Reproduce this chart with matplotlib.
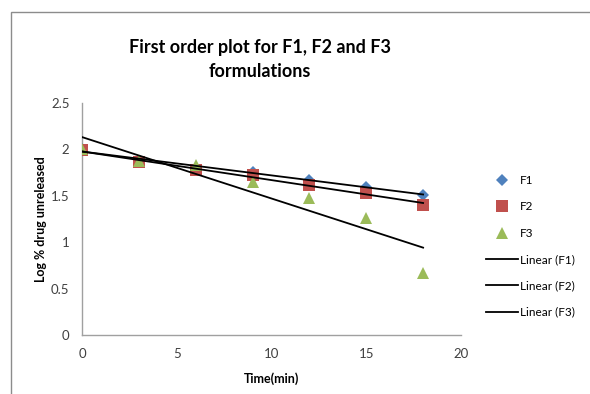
import matplotlib
matplotlib.use("Agg")
import matplotlib.pyplot as plt
from matplotlib.lines import Line2D
from matplotlib.patches import Rectangle
import numpy as np

plt.rcParams['font.family'] = ['Lato', 'DejaVu Sans']

# time points (min)
time = [0, 3, 6, 9, 12, 15, 18]
# log % drug unreleased
f1 = [2.00, 1.88, 1.80, 1.76, 1.67, 1.60, 1.51]
f2 = [1.99, 1.86, 1.78, 1.72, 1.62, 1.53, 1.40]
f3 = [2.00, 1.87, 1.83, 1.65, 1.48, 1.26, 0.67]
names = ['F1', 'F2', 'F3']

colors = ['#4F81BD', '#C0504D', '#9BBB59']
markers = ['D', 's', '^']
msizes = [6.5, 8.5, 8.5]

fig = plt.figure(figsize=(5.9, 3.94), dpi=100)
ax = fig.add_axes([82 / 590, 1 - 335 / 394, (461 - 82) / 590, (335 - 103) / 394])

# chart area border
fig.patches.append(Rectangle((11 / 590, -0.05), 1.2, 1 - 12 / 394 + 0.05,
                             transform=fig.transFigure, fill=False,
                             edgecolor='#8c8c8c', linewidth=1.0))

series = [f1, f2, f3]
x = np.array(time)
for ys, c, m, s in zip(series, colors, markers, msizes):
    ax.plot(time, ys, linestyle='None', marker=m, color=c, markersize=s,
            markeredgewidth=0, zorder=3)

for ys in series:
    k, b = np.polyfit(x, ys, 1)
    ax.plot([x[0], x[-1]], [b, b + k * x[-1]], color='black', linewidth=1.3,
            zorder=4)

ax.set_xlim(0, 20)
ax.set_ylim(0, 2.5)
ax.set_xticks([0, 5, 10, 15, 20])
ax.set_yticks([0, 0.5, 1, 1.5, 2, 2.5])
ax.set_yticklabels(['0', '0.5', '1', '1.5', '2', '2.5'])
ax.tick_params(length=0, labelsize=9.5, colors='#404040', pad=9)
for sp in ['top', 'right']:
    ax.spines[sp].set_visible(False)
for sp in ['left', 'bottom']:
    ax.spines[sp].set_color('#a0a0a0')
    ax.spines[sp].set_linewidth(1.0)

ax.set_xlabel('Time(min)', fontsize=9, fontweight='bold', labelpad=9)
ax.set_ylabel('Log % drug unreleased', fontsize=9, fontweight='bold', labelpad=3)

fig.text(0.44, 1 - 59.5 / 394, 'First order plot for F1, F2 and F3\nformulations',
         ha='center', va='center', fontsize=13, fontweight='bold',
         linespacing=1.55)

handles = [Line2D([], [], linestyle='None', marker=m, color=c, markersize=s,
                  markeredgewidth=0)
           for c, m, s in zip(colors, markers, msizes)]
handles += [Line2D([], [], color='black', linewidth=1.3) for _ in names]
labels = names + ['Linear (%s)' % n for n in names]
fig.legend(handles, labels, loc='upper left',
           bbox_to_anchor=(486 / 590, 1 - 175 / 394), frameon=False,
           fontsize=8.5, handlelength=2.7, handletextpad=0.2,
           labelspacing=1.3, borderaxespad=0, borderpad=0)

fig.savefig('out.png', dpi=100)
